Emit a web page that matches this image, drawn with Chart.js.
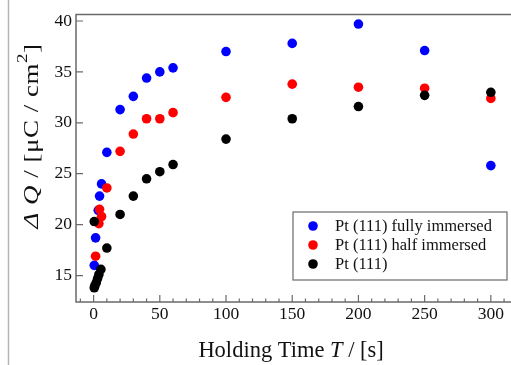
<!DOCTYPE html>
<html>
<head>
<meta charset="utf-8">
<script src="https://cdn.jsdelivr.net/npm/chart.js@4/dist/chart.umd.min.js"></script>
<style>
html,body{margin:0;padding:0;background:#fff;}
#wrap{position:relative;width:511px;height:365px;}
canvas{display:block;}
</style>
</head>
<body>
<div id="wrap"><canvas id="c" width="511" height="365"></canvas></div>
<script>
// ---- data ----
const SERIES_NAMES = ['Pt (111) fully immersed', 'Pt (111) half immersed', 'Pt (111)'];
const SERIES_COLORS = ['#0000ff', '#ff0000', '#000000'];

const T_FULL = [0.5, 1.5, 3.5, 4.5, 6, 10, 20, 30, 40, 50, 60, 100, 150, 200, 250, 300];
const Q_FULL = [16.0, 18.7, 21.4, 22.8, 24.0, 27.1, 31.3, 32.6, 34.4, 35.0, 35.4, 37.0, 37.8, 39.7, 37.1, 25.8];

const T_HALF = [1.5, 4, 4.5, 6, 10, 20, 30, 40, 50, 60, 100, 150, 200, 250, 300];
const Q_HALF = [16.9, 20.1, 21.5, 20.8, 23.6, 27.2, 28.9, 30.4, 30.4, 31.0, 32.5, 33.8, 33.5, 33.4, 32.4];

const T_BARE = [0.5, 0.5, 1, 2, 3, 4, 5.5, 10, 20, 30, 40, 50, 60, 100, 150, 200, 250, 300];
const Q_BARE = [20.3, 13.8, 14.0, 14.3, 14.7, 15.1, 15.6, 17.7, 21.0, 22.8, 24.5, 25.2, 25.9, 28.4, 30.4, 31.6, 32.7, 33.0];

const X_TICKS = [0, 50, 100, 150, 200, 250, 300];
const X_MINOR = [-10, 10, 20, 30, 40, 60, 70, 80, 90, 110, 120, 130, 140, 160, 170, 180, 190, 210, 220, 230, 240, 260, 270, 280, 290, 310];
const Y_TICKS = [15, 20, 25, 30, 35, 40];

const X_TITLE = [['Holding Time ', false], ['T', true], [' / [s]', false]];
const Y_TITLE = [['\u0394 ', true], ['Q', true], [' / [\u03bcC / cm', false], ['2', 'sup'], [']', false]];

// ---- build ----
function pts(t, q) { return t.map((v, i) => ({ x: v, y: q[i] })); }
const SERIF = '"Liberation Serif", "Times New Roman", serif';

const decor = {
  id: 'decor',
  beforeDraw(chart) {
    const ctx = chart.ctx;
    ctx.save();
    ctx.fillStyle = '#fff';
    ctx.fillRect(0, 0, chart.width, chart.height);
    ctx.strokeStyle = '#b4b4b4';
    ctx.lineWidth = 1.5;
    ctx.beginPath(); ctx.moveTo(8.5, 0); ctx.lineTo(8.5, chart.height); ctx.stroke();
    ctx.restore();
  },
  afterDatasetsDraw(chart) {
    const ctx = chart.ctx, a = chart.chartArea, xs = chart.scales.x, ys = chart.scales.y;
    ctx.save();
    ctx.strokeStyle = '#6a6a6a';
    ctx.lineWidth = 1.5;
    ctx.beginPath();
    ctx.moveTo(chart.width + 2, a.top); ctx.lineTo(a.left, a.top);
    ctx.lineTo(a.left, a.bottom); ctx.lineTo(chart.width + 2, a.bottom);
    ctx.stroke();
    ctx.lineWidth = 1.2;
    ctx.beginPath();
    X_TICKS.forEach(v => { const p = xs.getPixelForValue(v); ctx.moveTo(p, a.bottom); ctx.lineTo(p, a.bottom - 7); });
    X_MINOR.forEach(v => { const p = xs.getPixelForValue(v); ctx.moveTo(p, a.bottom); ctx.lineTo(p, a.bottom - 3.5); });
    Y_TICKS.forEach(v => { const p = ys.getPixelForValue(v); ctx.moveTo(a.left, p); ctx.lineTo(a.left + 7, p); });
    ctx.stroke();

    // legend box
    const lx = 293, ly = 212, lw = 214, lh = 68;
    ctx.fillStyle = '#fff';
    ctx.fillRect(lx, ly, lw, lh);
    ctx.strokeStyle = '#6a6a6a';
    ctx.lineWidth = 1.2;
    ctx.strokeRect(lx, ly, lw, lh);
    ctx.font = '16.5px ' + SERIF;
    ctx.textBaseline = 'middle';
    ctx.textAlign = 'left';
    chart.data.datasets.forEach((ds, i) => {
      const cy = 226 + i * 19;
      ctx.fillStyle = ds.backgroundColor;
      ctx.beginPath(); ctx.arc(313, cy, 4.8, 0, Math.PI * 2); ctx.fill();
      ctx.fillStyle = '#111';
      ctx.fillText(ds.label, 335, cy + 1);
    });

    function seg(parts, size) {
      return parts.map(([t, st]) => {
        const f = (st === true ? 'italic ' : '') + (st === 'sup' ? Math.round(size * 0.7) : size) + 'px ' + SERIF;
        ctx.font = f;
        return { t, f, w: ctx.measureText(t).width, sup: st === 'sup' };
      });
    }
    ctx.fillStyle = '#111';
    ctx.textBaseline = 'alphabetic';
    let s = seg(X_TITLE, 22.5);
    let tw = s.reduce((m, o) => m + o.w, 0);
    let x = (a.left + a.right) / 2 - tw / 2;
    s.forEach(o => { ctx.font = o.f; ctx.fillText(o.t, x, 357); x += o.w; });

    // y title (rotated, condensed across the line)
    try { ctx.letterSpacing = '0.5px'; } catch (e) {}
    s = seg(Y_TITLE, 27);
    tw = s.reduce((m, o) => m + o.w, 0);
    ctx.translate(38, 136);
    ctx.rotate(-Math.PI / 2);
    ctx.scale(1, 0.78);
    x = -tw / 2;
    s.forEach(o => { ctx.font = o.f; ctx.fillText(o.t, x, o.sup ? -14 : 0); x += o.w; });
    try { ctx.letterSpacing = '0px'; } catch (e) {}
    ctx.restore();
  }
};

new Chart(document.getElementById('c'), {
  type: 'scatter',
  data: {
    datasets: [
      { label: SERIES_NAMES[0], data: pts(T_FULL, Q_FULL), backgroundColor: SERIES_COLORS[0], borderColor: SERIES_COLORS[0], order: 3 },
      { label: SERIES_NAMES[1], data: pts(T_HALF, Q_HALF), backgroundColor: SERIES_COLORS[1], borderColor: SERIES_COLORS[1], order: 2 },
      { label: SERIES_NAMES[2], data: pts(T_BARE, Q_BARE), backgroundColor: SERIES_COLORS[2], borderColor: SERIES_COLORS[2], order: 1 }
    ].map(d => Object.assign(d, { pointRadius: 4.8, pointBorderWidth: 0, pointHoverRadius: 4.8 }))
  },
  options: {
    responsive: false,
    animation: false,
    layout: { padding: { left: 0, right: 0, top: 14, bottom: 0 } },
    plugins: { legend: { display: false }, tooltip: { enabled: false } },
    scales: {
      x: {
        type: 'linear', min: -13.3, max: 311.6,
        afterBuildTicks: s => { s.ticks = X_TICKS.map(v => ({ value: v })); },
        afterFit: s => { s.height = 63; },
        grid: { display: false, drawTicks: false },
        border: { display: false },
        ticks: { padding: 2, color: '#111', font: { family: SERIF, size: 17.5 } }
      },
      y: {
        type: 'linear', min: 12.4, max: 40.64,
        afterBuildTicks: s => { s.ticks = Y_TICKS.map(v => ({ value: v })); },
        afterFit: s => { s.width = 76; },
        grid: { display: false, drawTicks: false },
        border: { display: false },
        ticks: { padding: 4, color: '#111', font: { family: SERIF, size: 17.5 } }
      }
    }
  },
  plugins: [decor]
});
</script>
</body>
</html>
